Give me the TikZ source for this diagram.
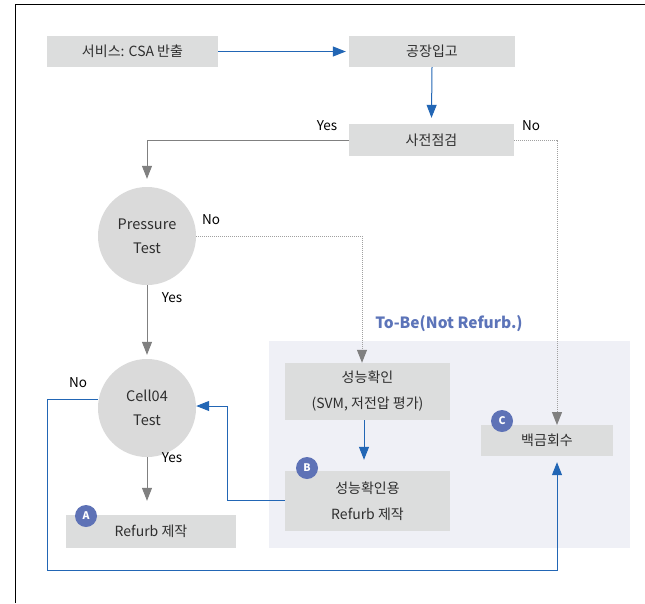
\documentclass[tikz,border=0pt]{standalone}
\usepackage{fontspec}
\setmainfont{Noto Sans CJK KR}
\usetikzlibrary{arrows.meta}
\definecolor{boxgray}{HTML}{DCDDDD}
\definecolor{circgray}{HTML}{DADADA}
\definecolor{txt}{HTML}{2E2E2E}
\definecolor{lineblue}{HTML}{2266B5}
\definecolor{linegray}{HTML}{808080}
\definecolor{dotgray}{HTML}{A0A0A0}
\definecolor{tobebg}{HTML}{EFF0F6}
\definecolor{badgeblue}{HTML}{5E72B6}
\definecolor{tobetxt}{HTML}{5C74B9}
\tikzset{
  box/.style={fill=boxgray, text=txt, inner sep=0pt, font=\fontsize{14}{26}\selectfont, align=center},
  circ/.style={circle, fill=circgray, text=txt, minimum size=98pt, inner sep=0pt, font=\fontsize{14.5}{24}\selectfont, align=center},
  blueline/.style={draw=lineblue, line width=1pt, -{Triangle[width=10pt,length=13pt]}},
  grayline/.style={draw=linegray, line width=1pt, -{Triangle[width=10pt,length=13pt]}},
  dotline/.style={draw=dotgray, line width=1pt, densely dotted, -{Triangle[width=10pt,length=13pt,color=linegray]}},
  badge/.style={circle, fill=badgeblue, text=white, minimum size=22pt, inner sep=0pt, font=\fontsize{10.5}{10.5}\selectfont\bfseries},
  lbl/.style={text=black, font=\fontsize{13.5}{14}\selectfont, inner sep=0pt}
}
\begin{document}
\begin{tikzpicture}[x=1pt,y=1pt]
\useasboundingbox (0,0) rectangle (645,-603);
\fill[white] (0,0) rectangle (645,-603);
% frame
\draw[black, line width=1pt] (15,-603) -- (15,-4) -- (645,-4);
% to-be region
\fill[tobebg] (269,-341) rectangle (630,-548);
\node[text=tobetxt, font=\fontsize{15.5}{16}\selectfont\bfseries, inner sep=0pt] (tobe) at (449,-324) {To-Be(Not Refurb.)};
% nodes
\node[box, minimum width=171pt, minimum height=31pt] (csa) at (132.5,-51.5) {서비스: CSA 반출};
\node[box, minimum width=166pt, minimum height=31pt] (ipgo) at (432,-51.5) {공장입고};
\node[box, minimum width=165pt, minimum height=32pt] (jeom) at (431.5,-140) {사전점검};
\node[circ] (pt) at (147,-236) {Pressure\\Test};
\node[circ] (cell) at (147,-408) {Cell04\\Test};
\node[box, minimum width=170pt, minimum height=33pt] (refa) at (151,-531.5) {Refurb 제작};
\node[box, minimum width=165pt, minimum height=57pt] (perf) at (367.5,-391.5) {성능확인\\(SVM, 저전압 평가)};
\node[box, minimum width=165pt, minimum height=60pt] (refb) at (367.5,-501) {성능확인용\\Refurb 제작};
\node[box, minimum width=132pt, minimum height=31pt] (back) at (547,-440.5) {백금회수};
% badges
\node[badge] (ba) at (86,-516) {A};
\node[badge] (bb) at (307,-468) {B};
\node[badge] (bc) at (502,-421) {C};
% labels
\node[lbl] (y1) at (327,-126) {Yes};
\node[lbl] (n1) at (531,-126) {No};
\node[lbl] (n2) at (211,-220) {No};
\node[lbl] (y2) at (172,-298) {Yes};
\node[lbl] (n3) at (78,-383) {No};
\node[lbl] (y3) at (172,-458) {Yes};
% connectors
\draw[blueline] (csa.east) -- ([xshift=-3pt]ipgo.west);
\draw[blueline] (ipgo.south) -- ([yshift=6pt]jeom.north);
\draw[grayline] (jeom.west) -| ([yshift=8pt]pt.north);
\draw[dotline] (jeom.east) -| (557,-425);
\draw[dotline] (pt.east) -| (perf.north -| 362,0);
\draw[grayline] (pt.south) -- ([yshift=4pt]cell.north);
\draw[grayline] (cell.south) -- ([yshift=14pt]refa.north -| cell.south);
\draw[blueline] (perf.south -| 364,0) -- ([yshift=11pt]refb.north -| 364,0);
\draw[blueline] (refb.west |- 0,-500) -- (227,-500) -- (227,-406) -- (cell.east |- 0,-406);
\draw[blueline] (cell.west |- 0,-399) -- (47,-399) -- (47,-570) -- (557,-570) -- ([yshift=-6pt]back.south -| 557,0);
\end{tikzpicture}
\end{document}
